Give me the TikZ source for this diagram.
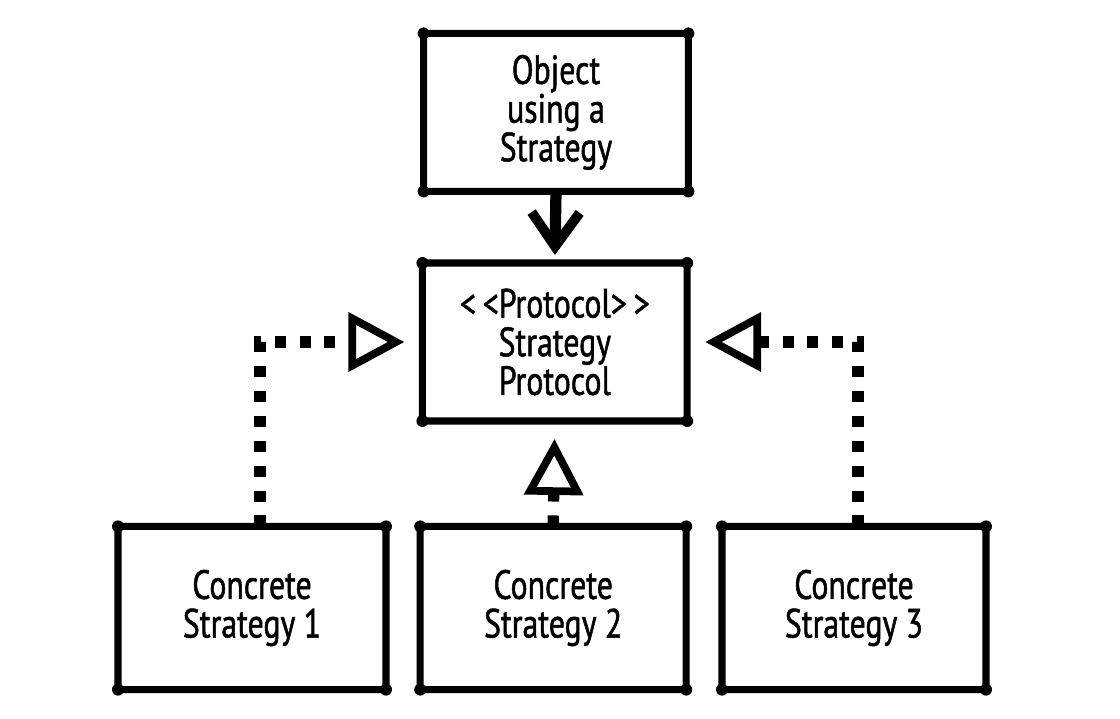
\documentclass[tikz,border=0pt]{standalone}
\usepackage{fontspec}
\setmainfont[FakeStretch=0.78, FakeBold=1.2]{PT Sans}
\usetikzlibrary{arrows.meta}

\begin{document}
\begin{tikzpicture}[
    box/.style={draw, line width=5pt, rounded corners=1pt, outer sep=0pt,
        minimum width=6.62cm, minimum height=3.95cm, align=center,
        font=\fontsize{29}{27.5}\selectfont},
    uses/.style={line width=8pt, shorten >=0.2cm,
        -{Straight Barb[length=0.85cm, width=1.2cm, line width=7pt]}},
    realizes/.style={line width=8pt, dash pattern=on 7.8pt off 9.9pt, shorten >=0.45cm,
        -{Triangle[open, length=1.4cm, width=1.45cm, line width=5.5pt]}},
]
    \useasboundingbox (0,0) rectangle (28,-17.95);
    %% client and protocol
    \node[box] (obj) at (13.9,-2.81) {Object\\using a\\Strategy};
    \node[box] (proto) at (13.87,-8.55) {<\,<Protocol>\,>\\Strategy\\Protocol};
    %% concrete strategies
    \node[box, minimum width=6.7cm, minimum height=4.08cm] (cs1) at (6.3,-15.2) {Concrete\\Strategy 1};
    \node[box, minimum width=6.65cm, minimum height=4.08cm] (cs2) at (13.83,-15.2) {Concrete\\Strategy 2};
    \node[box, minimum width=6.6cm, minimum height=4.08cm] (cs3) at (21.35,-15.2) {Concrete\\Strategy 3};
    %% corner blobs
    \foreach \b in {obj,proto,cs1,cs2,cs3}
        \foreach \a in {north west,north east,south west,south east}
            \fill (\b.\a) circle (0.15);
    %% uses
    \draw[uses] (obj.south) -- (proto.north);
    %% realizes
    \draw[realizes] ([xshift=0.2cm]cs1.north) |- (proto.west);
    \draw[realizes] (cs2.north) -- (proto.south);
    \draw[realizes] ([xshift=0.1cm]cs3.north) |- (proto.east);
\end{tikzpicture}
\end{document}
